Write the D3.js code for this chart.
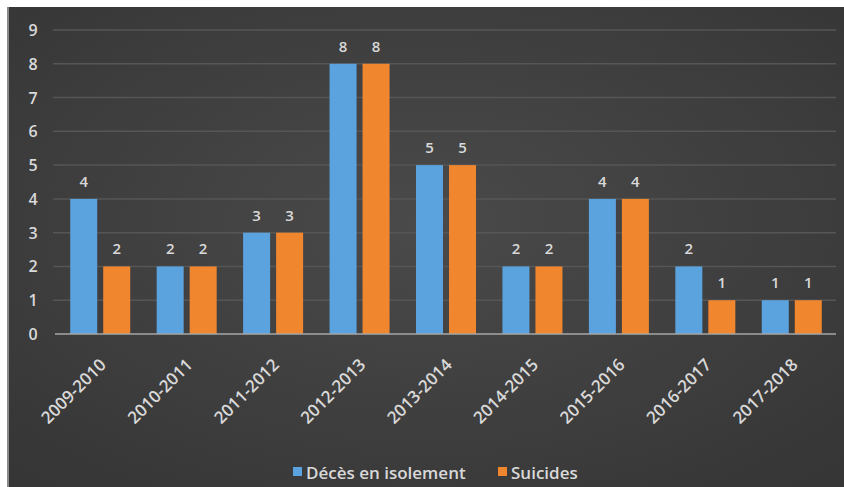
<html>
<head>
<meta charset="utf-8">
<style>
  body { margin: 0; background: #fff; }
  text { font-family: "Open Sans", sans-serif; font-weight: 600; }
</style>
</head>
<body>
<svg width="844" height="487"></svg>
<script src="https://d3js.org/d3.v7.min.js"></script>
<script>
var categories = ["2009-2010","2010-2011","2011-2012","2012-2013","2013-2014","2014-2015","2015-2016","2016-2017","2017-2018"];
var deces = [4,2,3,8,5,2,4,2,1];
var suicides = [2,2,3,8,5,2,4,1,1];
var seriesNames = ["Décès en isolement","Suicides"];
var seriesColors = ["#5ba3df","#f0872f"];
var yTicks = [0,1,2,3,4,5,6,7,8,9];

var svg = d3.select("svg");

// background with soft radial light
var defs = svg.append("defs");
var grad = defs.append("radialGradient").attr("id","bg")
  .attr("cx","50%").attr("cy","45%").attr("r","70%");
grad.append("stop").attr("offset","0%").attr("stop-color","#4a4a4a");
grad.append("stop").attr("offset","100%").attr("stop-color","#363636");

svg.append("rect").attr("x",7).attr("y",7).attr("width",837).attr("height",480)
  .attr("fill","url(#bg)");
svg.append("rect").attr("x",7).attr("y",7).attr("width",2).attr("height",480)
  .attr("fill","#8a8a8a");

var x = d3.scaleBand().domain(categories).range([57, 835]);
var y = d3.scaleLinear().domain([0, 9]).range([334, 30]);

var data = categories.map(function(c, i){ return {cat: c, vals: [deces[i], suicides[i]]}; });

// gridlines
svg.selectAll(".grid").data(yTicks.slice(1)).enter().append("line")
  .attr("x1", 53).attr("x2", 836)
  .attr("y1", function(d){ return y(d); }).attr("y2", function(d){ return y(d); })
  .attr("stroke", "#565656").attr("stroke-width", 1.5);

// y labels
svg.selectAll(".ylab").data(yTicks).enter().append("text")
  .attr("x", 33).attr("y", function(d){ return y(d) + 6; })
  .attr("text-anchor","middle").attr("font-size", 16).attr("fill","#d9d9d9")
  .text(function(d){ return d; });

var barW = 27, gap = 6;
var groups = svg.selectAll(".g").data(data).enter().append("g")
  .attr("transform", function(d){ return "translate(" + (x(d.cat) + x.bandwidth()/2) + ",0)"; });

groups.selectAll("rect").data(function(d){ return d.vals; }).enter().append("rect")
  .attr("x", function(d, i){ return i == 0 ? -barW - gap/2 : gap/2; })
  .attr("y", function(d){ return y(d); })
  .attr("width", barW)
  .attr("height", function(d){ return y(0) - y(d); })
  .attr("fill", function(d, i){ return seriesColors[i]; });

groups.selectAll(".val").data(function(d){ return d.vals; }).enter().append("text")
  .attr("x", function(d, i){ return i == 0 ? -barW/2 - gap/2 : barW/2 + gap/2; })
  .attr("y", function(d){ return y(d) - 12; })
  .attr("text-anchor","middle").attr("font-size", 15).attr("fill","#d9d9d9")
  .text(function(d){ return d; });

// x axis line
svg.append("line").attr("x1", 55).attr("x2", 836).attr("y1", y(0)).attr("y2", y(0))
  .attr("stroke", "#a6a6a6").attr("stroke-width", 1.5);

// category labels
svg.selectAll(".xlab").data(categories).enter().append("text")
  .attr("transform", function(d){ return "translate(" + (x(d) + x.bandwidth()/2 + 7) + ",366) rotate(-45)"; })
  .attr("text-anchor","end").attr("font-size", 17).attr("fill","#d9d9d9")
  .text(function(d){ return d; });

// legend
var legX = [293, 498];
seriesNames.forEach(function(n, i){
  svg.append("rect").attr("x", legX[i]).attr("y", 467).attr("width", 9).attr("height", 9)
    .attr("fill", seriesColors[i]);
  svg.append("text").attr("x", legX[i] + 13).attr("y", 479)
    .attr("font-size", 17).attr("fill","#d9d9d9").text(n);
});
</script>
</body>
</html>
